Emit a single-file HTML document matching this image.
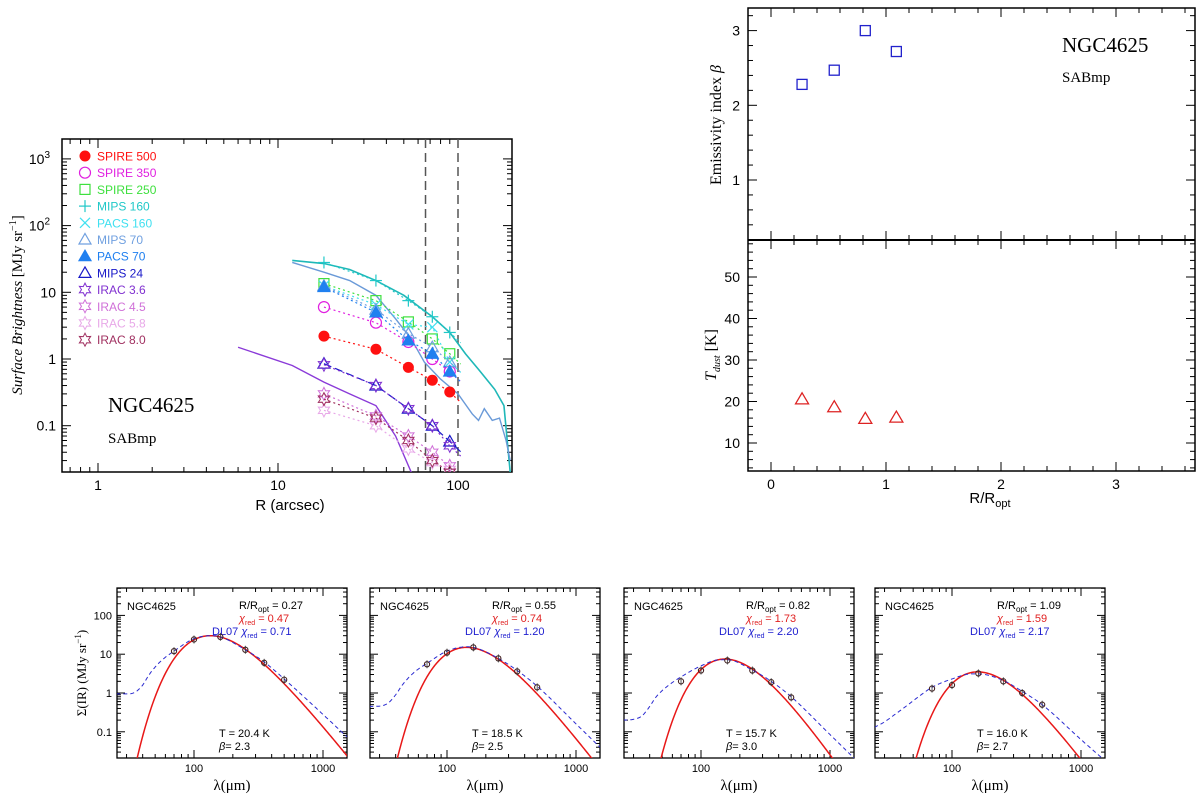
<!DOCTYPE html>
<html><head><meta charset="utf-8"><style>
html,body{margin:0;padding:0;background:#fff;}
svg{display:block;font-family:"Liberation Sans",sans-serif;}
</style></head><body>
<svg id="fig" width="1200" height="794" viewBox="0 0 1200 794" xmlns="http://www.w3.org/2000/svg"></svg>
<script>
// ---------- data: left profile panel ----------
const radii = [18, 35, 53, 72, 90];
const spire500 = [2.2, 1.4, 0.75, 0.48, 0.32];
const spire350 = [6, 3.5, 1.8, 1.0, 0.65];
const spire250 = [13.5, 7.5, 3.6, 2.0, 1.2];
const mips160 = [28, 15, 7.5, 4.3, 2.5];
const pacs160 = [12.5, 6.5, 3.3, 3.0, 0.9];
const mips70 = [12.5, 5.5, 2.4, 1.5, 0.9];
const pacs70 = [12, 5, 1.9, 1.2, 0.65];
const mips24 = [0.85, 0.4, 0.18, 0.1, 0.058];
const irac36 = [0.82, 0.4, 0.18, 0.1, 0.05];
const irac45 = [0.3, 0.14, 0.07, 0.04, 0.025];
const irac58 = [0.17, 0.1, 0.045, 0.028, 0.022];
const irac80 = [0.25, 0.13, 0.06, 0.03, 0.02];
const cyanLineR = [12, 18, 25, 35, 50, 72, 90, 110, 130, 160, 180, 195];
const cyanLineV = [30, 27, 22, 15, 9, 4.3, 2.5, 1.2, 0.7, 0.35, 0.2, 0.02];
const blueLineR = [12, 18, 25, 35, 45, 55, 65, 80, 100, 120, 130, 140, 155, 170, 185, 195];
const blueLineV = [28, 20, 15, 9, 4, 2, 0.9, 0.5, 0.3, 0.15, 0.12, 0.18, 0.12, 0.13, 0.06, 0.03];
const purpLineR = [6, 12, 18, 25, 35, 45, 55];
const purpLineV = [1.5, 0.8, 0.45, 0.3, 0.2, 0.07, 0.02];
const vlines = [66, 100];
// ---------- data: right panels ----------
const rRopt = [0.27, 0.55, 0.82, 1.09];
const betas = [2.28, 2.47, 3.0, 2.72];
const tdust = [20.4, 18.5, 15.7, 16.0];
// ---------- data: SED panels ----------
const sedWl = [70, 100, 160, 250, 350, 500];
const sedVals = [[12, 24, 28, 13, 6, 2.2],[5.5, 11, 15, 7.8, 3.6, 1.4],[2, 3.8, 6.9, 3.8, 1.9, 0.77],[1.3, 1.6, 3.2, 2.0, 1.0, 0.5]];
const sedT = [20.4, 18.5, 15.7, 16.0];
const sedBeta = [2.3, 2.5, 3.0, 2.7];
const sedPeak = [30, 15, 7.5, 3.5];
const sedChi = ["0.47", "0.74", "1.73", "1.59"];
const sedDl = ["0.71", "1.20", "2.20", "2.17"];
const sedR = ["0.27", "0.55", "0.82", "1.09"];
const dlWl = [25, 30, 35, 40, 45, 55, 70, 100, 140, 160, 250, 350, 500, 1000, 1535];
const dlVals = [
 [0.95, 0.95, 1.05, 1.6, 3, 6.5, 12, 25, 30, 28, 13, 6.3, 2.3, 0.28, 0.074],
 [0.45, 0.46, 0.55, 0.9, 1.6, 3.3, 5.8, 12, 15.5, 15, 7.8, 3.8, 1.5, 0.16, 0.04],
 [0.2, 0.21, 0.26, 0.45, 0.8, 1.5, 2.6, 5, 7.2, 7.2, 3.9, 2.0, 0.8, 0.085, 0.021],
 [0.13, 0.18, 0.26, 0.36, 0.48, 0.8, 1.4, 2.3, 3.1, 3.1, 2.1, 1.1, 0.5, 0.063, 0.018]];

const NS = "http://www.w3.org/2000/svg";
const svg = document.getElementById('fig');
function el(tag, attrs, parent, text){const e=document.createElementNS(NS,tag);for(const k in attrs)e.setAttribute(k,attrs[k]);if(text!==undefined)e.textContent=text;(parent||svg).appendChild(e);return e;}
const L10 = Math.log10;

// ---------- Left panel ----------
const LP={x0:62,x1:512,y0:139,y1:472};
const lx = v => 98 + 180*L10(v);
const ly = v => 359 - 66.7*L10(v);
const gL = el('g',{});


el('rect',{x:LP.x0,y:LP.y0,width:LP.x1-LP.x0,height:LP.y1-LP.y0,fill:'none',stroke:'#000','stroke-width':1.5},gL);
for(let d=-1;d<=2;d++)for(let m=1;m<=9;m++){const v=m*Math.pow(10,d);const x=lx(v);if(x<LP.x0||x>LP.x1)continue;const len=m==1?9:5;
 el('line',{x1:x,x2:x,y1:LP.y1,y2:LP.y1-len,stroke:'#000'},gL);el('line',{x1:x,x2:x,y1:LP.y0,y2:LP.y0+len,stroke:'#000'},gL);}
for(let d=-2;d<=3;d++)for(let m=1;m<=9;m++){const v=m*Math.pow(10,d);const y=ly(v);if(y<LP.y0||y>LP.y1)continue;const len=m==1?9:5;
 el('line',{x1:LP.x0,x2:LP.x0+len,y1:y,y2:y,stroke:'#000'},gL);el('line',{x1:LP.x1,x2:LP.x1-len,y1:y,y2:y,stroke:'#000'},gL);}
[[1,'1'],[10,'10'],[100,'100']].forEach(([v,t])=>{const e=el('text',{x:lx(v),y:490,'text-anchor':'middle','font-size':14},gL,t);});
[[1000,'10','3'],[100,'10','2'],[10,'10',null],[1,'1',null],[0.1,'0.1',null]].forEach(([v,t,s])=>{
 const e=el('text',{x:s?50:56,y:ly(v)+5,'text-anchor':'end','font-size':14},gL);
 
 e.appendChild(document.createTextNode(t));
 if(s){const ss=document.createElementNS(NS,'tspan');ss.setAttribute('dy',-6);ss.setAttribute('font-size',10);ss.textContent=s;e.appendChild(ss);}});
let t=el('text',{x:290,y:510,'text-anchor':'middle','font-size':15},gL,'R (arcsec)');

t=el('text',{transform:'translate(22,305) rotate(-90)','text-anchor':'middle','font-size':15,'font-family':'Liberation Serif, serif'},gL);

t.innerHTML='<tspan font-style="italic">Surface Brightness</tspan> [MJy sr<tspan dy="-6" font-size="10">−1</tspan><tspan dy="6">]</tspan>';
t=el('text',{x:108,y:412,'font-size':21,'font-family':'Liberation Serif, serif'},gL,'NGC4625');
t=el('text',{x:108,y:443,'font-size':15,'font-family':'Liberation Serif, serif'},gL,'SABmp');
const defs=el('defs',{});
const cp=el('clipPath',{id:'clipL'},defs);el('rect',{x:LP.x0,y:LP.y0,width:LP.x1-LP.x0,height:LP.y1-LP.y0},cp);
const gC=el('g',{'clip-path':'url(#clipL)'},gL);
vlines.forEach(v=>{const e=el('line',{x1:lx(v),x2:lx(v),y1:LP.y0,y2:LP.y1,stroke:'#555','stroke-width':1.5,'stroke-dasharray':'9,5'},gC);});
function polyL(R,V,color,dash,name,w){const p=el('polyline',{points:R.map((r,i)=>lx(r)+','+ly(V[i])).join(' '),fill:'none',stroke:color,'stroke-width':w||1.3,'stroke-dasharray':dash||'none'},gC);}
polyL(cyanLineR,cyanLineV,'#1fb8b8',null,'mips160-profile-line',1.6);
polyL(blueLineR,blueLineV,'#6a9ad8',null,'mips70-profile-line',1.4);
polyL(purpLineR,purpLineV,'#8a3ad8',null,'irac-profile-line',1.4);
function marker(g,type,x,y,c){
 const s=5.5;
 if(type=='fcirc')el('circle',{cx:x,cy:y,r:s,fill:c},g);
 if(type=='ocirc')el('circle',{cx:x,cy:y,r:s,fill:'none',stroke:c,'stroke-width':1.2},g);
 if(type=='sq')el('rect',{x:x-5,y:y-5,width:10,height:10,fill:'none',stroke:c,'stroke-width':1.2},g);
 if(type=='plus'){el('line',{x1:x-6,x2:x+6,y1:y,y2:y,stroke:c,'stroke-width':1.2},g);el('line',{x1:x,x2:x,y1:y-6,y2:y+6,stroke:c,'stroke-width':1.2},g);}
 if(type=='cross'){el('line',{x1:x-5,x2:x+5,y1:y-5,y2:y+5,stroke:c,'stroke-width':1.2},g);el('line',{x1:x-5,x2:x+5,y1:y+5,y2:y-5,stroke:c,'stroke-width':1.2},g);}
 if(type=='otri'||type=='ftri')el('polygon',{points:`${x},${y-6} ${x+6},${y+4.5} ${x-6},${y+4.5}`,fill:type=='ftri'?c:'none',stroke:c,'stroke-width':1.2},g);
 if(type=='star'){let p=[];for(let i=0;i<12;i++){const r=i%2?3.5:6.5;const a=Math.PI/6*i-Math.PI/2;p.push((x+r*Math.cos(a))+','+(y+r*Math.sin(a)));}el('polygon',{points:p.join(' '),fill:'none',stroke:c,'stroke-width':1},g);}
}
const series=[
 ['SPIRE 500',spire500,'#ff1010','fcirc','spire-500'],
 ['SPIRE 350',spire350,'#e020e0','ocirc','spire-350'],
 ['SPIRE 250',spire250,'#3ee03e','sq','spire-250'],
 ['MIPS 160',mips160,'#20c8c8','plus','mips-160'],
 ['PACS 160',pacs160,'#40e0f0','cross','pacs-160'],
 ['MIPS 70',mips70,'#70a0e0','otri','mips-70'],
 ['PACS 70',pacs70,'#2080f0','ftri','pacs-70'],
 ['MIPS 24',mips24,'#1818c8','otri','mips-24'],
 ['IRAC 3.6',irac36,'#8030d0','star','irac-3-6'],
 ['IRAC 4.5',irac45,'#d070d8','star','irac-4-5'],
 ['IRAC 5.8',irac58,'#e8a8e8','star','irac-5-8'],
 ['IRAC 8.0',irac80,'#a03060','star','irac-8-0']];
series.forEach(([lab,V,c,m,nm])=>{
 const g=el('g',{},gC);
 el('polyline',{points:radii.map((r,i)=>lx(r)+','+ly(V[i])).join(' ')+' '+(lx(radii[4]*1.15))+','+ly(V[4]*0.7),fill:'none',stroke:c,'stroke-width':1.2,'stroke-dasharray':nm=='mips-24'?'8,4':'2,3'},g);
 radii.forEach((r,i)=>marker(g,m,lx(r),ly(V[i]),c));
});
series.forEach(([lab,V,c,m,nm],i)=>{
 const g=el('g',{},gL);
 const y=156+i*16.7;marker(g,m,85,y,c);el('text',{x:97,y:y+4.5,'font-size':12,fill:c},g,lab);
});

// ---------- Right panels ----------
const RP={x0:748,x1:1195,y0:8,ym:240,y1:471};
const rx=v=>771+115*v, by=v=>180-74.7*(v-1), ty=v=>443-4.15*(v-10);
const gR=el('g',{});
el('rect',{x:RP.x0,y:RP.y0,width:RP.x1-RP.x0,height:RP.y1-RP.y0,fill:'none',stroke:'#000','stroke-width':1.5},gR);
el('line',{x1:RP.x0,x2:RP.x1,y1:RP.ym,y2:RP.ym,stroke:'#000','stroke-width':2},gR);
for(let v=-0.2;v<=3.7;v+=0.2){const vv=Math.round(v*10)/10;const x=rx(vv);if(x<RP.x0||x>RP.x1)continue;const maj=Math.abs(vv-Math.round(vv))<1e-6;const len=maj?9:5;
 [[RP.y0,1],[RP.ym,1],[RP.ym,-1],[RP.y1,-1]].forEach(([y,s])=>el('line',{x1:x,x2:x,y1:y,y2:y+s*len,stroke:'#000'},gR));}
for(let v=0.2;v<=3.3;v+=0.2){const vv=Math.round(v*10)/10;const y=by(vv);const maj=Math.abs(vv-Math.round(vv))<1e-6;const len=maj?9:5;
 el('line',{x1:RP.x0,x2:RP.x0+len,y1:y,y2:y,stroke:'#000'},gR);el('line',{x1:RP.x1,x2:RP.x1-len,y1:y,y2:y,stroke:'#000'},gR);}
for(let v=4;v<=58;v+=2){const y=ty(v);const maj=v%10==0;const len=maj?9:5;
 el('line',{x1:RP.x0,x2:RP.x0+len,y1:y,y2:y,stroke:'#000'},gR);el('line',{x1:RP.x1,x2:RP.x1-len,y1:y,y2:y,stroke:'#000'},gR);}
[0,1,2,3].forEach(v=>{const e=el('text',{x:rx(v),y:489,'text-anchor':'middle','font-size':14},gR,String(v));});
[1,2,3].forEach(v=>{const e=el('text',{x:740,y:by(v)+5,'text-anchor':'end','font-size':14},gR,String(v));});
[10,20,30,40,50].forEach(v=>{const e=el('text',{x:740,y:ty(v)+5,'text-anchor':'end','font-size':14},gR,String(v));});
t=el('text',{x:990,y:503,'text-anchor':'middle','font-size':15},gR);
t.innerHTML='R/R<tspan dy="4" font-size="11">opt</tspan>';
t=el('text',{transform:'translate(721,125) rotate(-90)','text-anchor':'middle','font-size':16,'font-family':'Liberation Serif, serif'},gR);
t.innerHTML='Emissivity index <tspan font-style="italic">β</tspan>';
t=el('text',{transform:'translate(716,355) rotate(-90)','text-anchor':'middle','font-size':16,'font-family':'Liberation Serif, serif'},gR);
t.innerHTML='<tspan font-style="italic">T</tspan><tspan dy="4" font-size="10" font-style="italic">dust</tspan><tspan dy="-4"> [K]</tspan>';
t=el('text',{x:1062,y:52,'font-size':21,'font-family':'Liberation Serif, serif'},gR,'NGC4625');
t=el('text',{x:1062,y:82,'font-size':15,'font-family':'Liberation Serif, serif'},gR,'SABmp');
rRopt.forEach((r,i)=>{const e=el('rect',{x:rx(r)-5,y:by(betas[i])-5,width:10,height:10,fill:'none',stroke:'#2222cc','stroke-width':1.3},gR);
 const x=rx(r),y=ty(tdust[i]);const p=el('polygon',{points:`${x},${y-7} ${x+6.5},${y+4} ${x-6.5},${y+4}`,fill:'none',stroke:'#dd2222','stroke-width':1.3},gR);});

// ---------- SED panels ----------
const panelX=[117,370,624,875];
const SW=230, SY0=588, SY1=758;
// monotone cubic (Fritsch-Carlson) interpolation
function monotone(xs,ys){const n=xs.length;const d=[],m=new Array(n);
 for(let i=0;i<n-1;i++)d.push((ys[i+1]-ys[i])/(xs[i+1]-xs[i]));
 m[0]=d[0];m[n-1]=d[n-2];for(let i=1;i<n-1;i++)m[i]=(d[i-1]*d[i]<=0)?0:(d[i-1]+d[i])/2;
 for(let i=0;i<n-1;i++){if(d[i]==0){m[i]=m[i+1]=0;continue;}const a=m[i]/d[i],b=m[i+1]/d[i],s=a*a+b*b;if(s>9){const tt=3/Math.sqrt(s);m[i]=tt*a*d[i];m[i+1]=tt*b*d[i];}}
 return x=>{let i=0;while(i<n-2&&x>xs[i+1])i++;const h=xs[i+1]-xs[i],tt=(x-xs[i])/h,t2=tt*tt,t3=t2*tt;
  return (2*t3-3*t2+1)*ys[i]+(t3-2*t2+tt)*h*m[i]+(-2*t3+3*t2)*ys[i+1]+(t3-t2)*h*m[i+1];};}
for(let k=0;k<4;k++){
 const X0=panelX[k];
 const sx=v=>X0+77+129*(L10(v)-2), sy=v=>693-38.8*L10(v);
 const g=el('g',{});
 const cid='clipS'+k;const c=el('clipPath',{id:cid},defs);el('rect',{x:X0,y:SY0,width:SW,height:SY1-SY0},c);
 el('rect',{x:X0,y:SY0,width:SW,height:SY1-SY0,fill:'none',stroke:'#000','stroke-width':1.3},g);
 for(let d=1;d<=3;d++)for(let m=1;m<=9;m++){const v=m*Math.pow(10,d);const x=sx(v);if(x<X0||x>X0+SW)continue;const len=m==1?8:4;
  el('line',{x1:x,x2:x,y1:SY1,y2:SY1-len,stroke:'#000'},g);el('line',{x1:x,x2:x,y1:SY0,y2:SY0+len,stroke:'#000'},g);}
 for(let d=-2;d<=2;d++)for(let m=1;m<=9;m++){const v=m*Math.pow(10,d);const y=sy(v);if(y<SY0||y>SY1)continue;const len=m==1?8:4;
  el('line',{x1:X0,x2:X0+len,y1:y,y2:y,stroke:'#000'},g);el('line',{x1:X0+SW,x2:X0+SW-len,y1:y,y2:y,stroke:'#000'},g);}
 [[100,'100'],[1000,'1000']].forEach(([v,s])=>{const e=el('text',{x:sx(v),y:772,'text-anchor':'middle','font-size':11},g,s);});
 if(k==0){[[100,'100'],[10,'10'],[1,'1'],[0.1,'0.1']].forEach(([v,s])=>{const e=el('text',{x:X0-5,y:sy(v)+4,'text-anchor':'end','font-size':11},g,s);});
  t=el('text',{transform:'translate(86,673) rotate(-90)','text-anchor':'middle','font-size':13,'font-family':'Liberation Serif, serif'},g);
  t.innerHTML='Σ(IR)  (MJy sr<tspan dy="-5" font-size="9">−1</tspan><tspan dy="5">)</tspan>';}
 t=el('text',{x:X0+115,y:790,'text-anchor':'middle','font-size':15,'font-family':'Liberation Serif, serif'},g,'λ(μm)');
 t=el('text',{x:X0+10,y:610,'font-size':11},g,'NGC4625');
 t=el('text',{x:X0+122,y:609,'font-size':11},g);
 t.innerHTML='R/R<tspan dy="3" font-size="8">opt</tspan><tspan dy="-3"> = '+sedR[k]+'</tspan>';
 t=el('text',{x:X0+122,y:622,'font-size':11,fill:'#e02020'},g);
 t.innerHTML='<tspan font-style="italic">χ</tspan><tspan dy="3" font-size="7">red</tspan><tspan dy="-3"> = '+sedChi[k]+'</tspan>';
 t=el('text',{x:X0+95,y:635,'font-size':11,fill:'#2020d0'},g);
 t.innerHTML='DL07 <tspan font-style="italic">χ</tspan><tspan dy="3" font-size="7">red</tspan><tspan dy="-3"> = '+sedDl[k]+'</tspan>';
 t=el('text',{x:X0+102,y:737,'font-size':11},g,'T = '+sedT[k].toFixed(1)+' K');
 t=el('text',{x:X0+102,y:750,'font-size':11},g);
 t.innerHTML='<tspan font-style="italic">β</tspan>= '+sedBeta[k].toFixed(1);
 const gc=el('g',{'clip-path':'url(#'+cid+')'},g);
 const T=sedT[k],B=sedBeta[k];const mbb=l=>Math.pow(l,-(3+B))/(Math.exp(14388/(l*T))-1);
 let pts=[],mx=0;for(let i=0;i<=300;i++){const l=Math.pow(10,1.35+i*(1.9/300));const v=mbb(l);pts.push([l,v]);if(v>mx)mx=v;}
 const sc=sedPeak[k]/mx;
 const ln=el('polyline',{points:pts.filter(p=>p[1]*sc>0.005).map(p=>sx(p[0])+','+sy(p[1]*sc)).join(' '),fill:'none',stroke:'#e81818','stroke-width':1.5},gc);
 
 const f=monotone(dlWl.map(L10),dlVals[k].map(L10));
 let dp=[];const a0=L10(dlWl[0]),a1=L10(dlWl[dlWl.length-1]);
 for(let i=0;i<=200;i++){const lw=a0+(a1-a0)*i/200;dp.push(sx(Math.pow(10,lw)).toFixed(1)+','+sy(Math.pow(10,f(lw))).toFixed(1));}
 const dl=el('polyline',{points:dp.join(' '),fill:'none',stroke:'#2a2ad0','stroke-width':1,'stroke-dasharray':'4,3'},gc);
 
 sedWl.forEach((w,i)=>{const x=sx(w),y=sy(sedVals[k][i]);const pt=el('g',{},gc);
  el('circle',{cx:x,cy:y,r:2.6,fill:'none',stroke:'#442222','stroke-width':1.1},pt);
  el('line',{x1:x,x2:x,y1:y-4,y2:y+4,stroke:'#333','stroke-width':0.8},pt);});
}
</script>
</body></html>
